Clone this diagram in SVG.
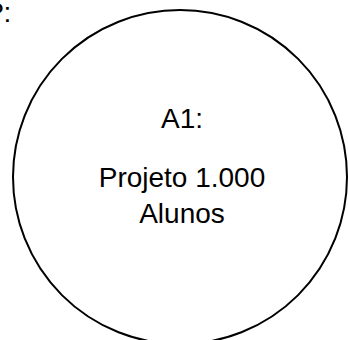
<svg xmlns="http://www.w3.org/2000/svg" width="348" height="340" viewBox="0 0 348 340">
<style>
.t{font-family:"Liberation Sans",Arial,sans-serif;font-size:28px;fill:#000;text-anchor:middle}
</style>
<rect width="348" height="340" fill="#fff"/>
<g id="offscreen-label">
<text x="-12" y="22" style="font-family:'Liberation Sans',Arial,sans-serif;font-size:28px;fill:#000">?:</text>
</g>
<g id="connectors"></g>
<g id="node-a1">
<circle cx="180" cy="177" r="167" fill="none" stroke="#000" stroke-width="2"/>
<text class="t" x="182" y="128">A1:</text>
<text class="t" x="182" y="187">Projeto 1.000</text>
<text class="t" x="182" y="223">Alunos</text>
</g>
</svg>
